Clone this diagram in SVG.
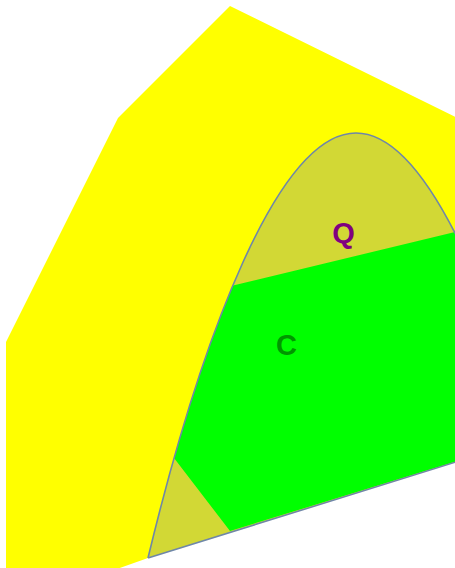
<svg xmlns="http://www.w3.org/2000/svg" width="455" height="568" viewBox="0 0 455 568">
<style>
.lbl{font-family:"Liberation Sans",Arial,sans-serif;font-weight:bold;font-size:29px;text-anchor:middle}
</style>
<defs>
<clipPath id="seg"><path d="M148,558 C201,338 278,133 356,133 C434,133 511,338 564,558 L520,442 Z"/></clipPath>
</defs>
<rect width="455" height="568" fill="#ffffff"/>
<g id="outer">
<polygon points="230,6 480,129 480,450 148,558 100,575 6,575 6,342 118,118" fill="#ffff00"/>
</g>
<g id="Q">
<path d="M148,558 C201,338 278,133 356,133 C434,133 511,338 564,558 L520,442 Z" fill="#d2d835"/>
</g>
<g id="C">
<polygon clip-path="url(#seg)" points="140,305 231,286 480,226 480,454 230,531 174,458 140,414" fill="#00ff00"/>
</g>
<g id="connectors">
<path d="M148,558 C201,338 278,133 356,133 C434,133 511,338 564,558 M148,558 L520,442" fill="none" stroke="#6f87a8" stroke-width="1.6"/>
</g>
<g id="labels">
<text class="lbl" x="343.5" y="243" fill="#800080">Q</text>
<text class="lbl" x="286.5" y="355" fill="#009600">C</text>
</g>
</svg>
